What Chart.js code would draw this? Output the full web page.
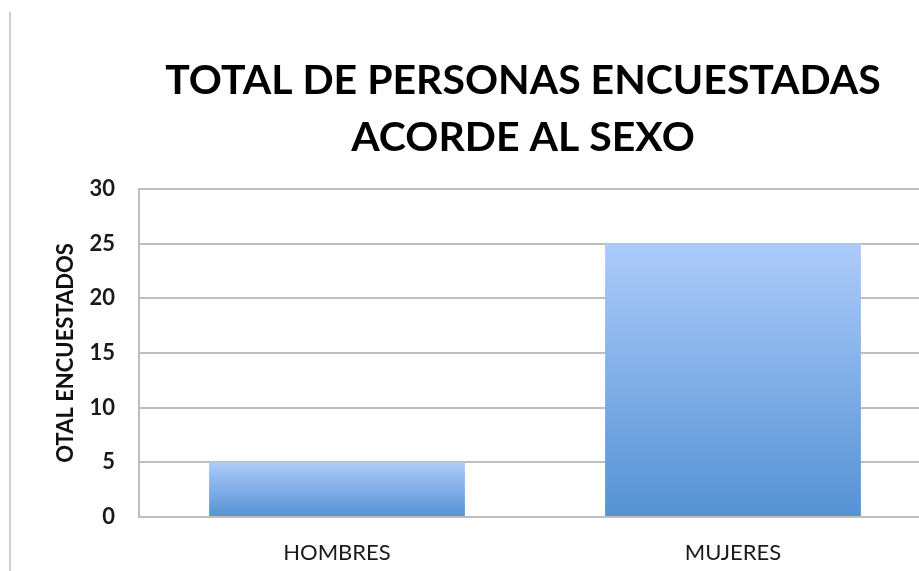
<!DOCTYPE html>
<html>
<head>
<meta charset="utf-8">
<script src="https://cdn.jsdelivr.net/npm/chart.js@4.4.1/dist/chart.umd.min.js"></script>
<style>
    html, body {
        margin: 0;
        padding: 0;
        background: #ffffff;
        overflow: hidden;
    }
    .frame {
        position: relative;
        width: 919px;
        height: 571px;
        overflow: hidden;
    }
    .frame-line {
        position: absolute;
        left: 9px;
        top: 12px;
        bottom: 0;
        width: 2px;
        background: #d0d0d0;
    }
    .chart-box {
        position: absolute;
        left: 0;
        top: 0;
        width: 1046px;
        height: 571px;
    }
</style>
</head>
<body>
<div class="frame">
    <div class="frame-line"></div>
    <div class="chart-box">
        <canvas id="sexChart" width="1046" height="571"></canvas>
    </div>
</div>
<script>
// Chart data
const categories = ['HOMBRES', 'MUJERES'];
const respondents = [5, 25];
const titleLines = ['TOTAL DE PERSONAS ENCUESTADAS', 'ACORDE AL SEXO'];
const yAxisTitle = 'OTAL ENCUESTADOS';
const yMin = 0;
const yMax = 30;
const yStep = 5;

// Vertical gradient for each bar, from its top down to zero
function barGradient(ctx) {
    const chart = ctx.chart;
    if (!chart.chartArea) return '#7aa9e6';
    const y = chart.scales.y;
    const top = y.getPixelForValue(ctx.raw);
    const bottom = y.getPixelForValue(0);
    const g = chart.ctx.createLinearGradient(0, top, 0, bottom);
    g.addColorStop(0, '#accbfa');
    g.addColorStop(1, '#5592d4');
    return g;
}

const gridColor = '#bebebe';

new Chart(document.getElementById('sexChart').getContext('2d'), {
    type: 'bar',
    data: {
        labels: categories,
        datasets: [{
            data: respondents,
            backgroundColor: barGradient,
            borderWidth: 0,
            categoryPercentage: 1,
            barPercentage: 0.646
        }]
    },
    options: {
        responsive: false,
        animation: false,
        layout: {
            padding: 0
        },
        plugins: {
            legend: { display: false },
            tooltip: { enabled: false },
            title: {
                display: true,
                text: titleLines,
                color: '#000000',
                font: { family: 'Lato', size: 41, weight: 'bold', lineHeight: 1.4 },
                padding: { top: 52, bottom: 22 }
            }
        },
        scales: {
            x: {
                afterFit: function(scale) {
                    scale.height = 54;
                },
                grid: { display: false, drawTicks: false },
                border: { display: true, color: gridColor, width: 2 },
                ticks: {
                    color: '#1a1a1a',
                    padding: 23,
                    font: { family: 'Lato', size: 22 }
                }
            },
            y: {
                min: yMin,
                max: yMax,
                afterFit: function(scale) {
                    scale.width = 139;
                },
                grid: {
                    color: gridColor,
                    lineWidth: 2,
                    drawTicks: false
                },
                border: { display: true, color: gridColor, width: 2 },
                ticks: {
                    stepSize: yStep,
                    color: '#1a1a1a',
                    padding: 24,
                    font: { family: 'Lato', size: 22, weight: 'bold' }
                },
                title: {
                    display: true,
                    text: yAxisTitle,
                    color: '#111111',
                    font: { family: 'Lato', size: 22, weight: 'bold' },
                    padding: { top: 53, bottom: 0 }
                }
            },
            // empty right-hand box: the plot runs off the right edge while the title stays centred
            yRight: {
                position: 'right',
                display: true,
                afterFit: function(scale) {
                    scale.width = 115;
                },
                grid: { display: false, drawTicks: false },
                border: { display: false },
                ticks: { display: false }
            }
        }
    }
});
</script>
</body>
</html>
